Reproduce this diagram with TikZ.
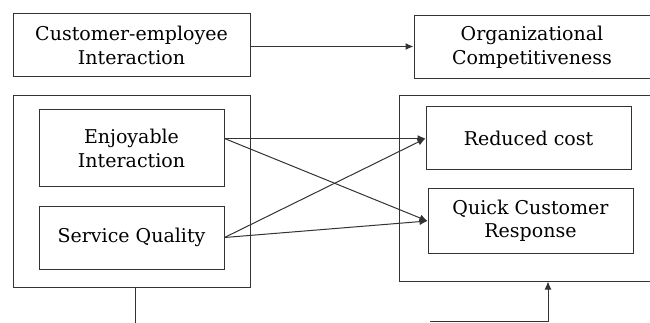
\documentclass[tikz,border=0pt]{standalone}
\usepackage{fontspec}
\setmainfont{DejaVu Serif}
\usetikzlibrary{arrows.meta,calc}
\definecolor{ln}{HTML}{333333}
\tikzset{txt/.style={font=\fontsize{19}{23.5}\selectfont}}
\begin{document}
\begin{tikzpicture}[x=1pt,y=-1pt,
  box/.style={draw=ln,line width=1pt,rectangle,inner sep=0pt,align=center,txt},
  arr/.style={draw=ln,line width=1pt,-{Latex[length=8pt,width=7pt]}},
  ln/.style={draw=ln,line width=1pt}]
\useasboundingbox (0,0) rectangle (650,323);
\node[box,minimum width=237pt,minimum height=63pt] (ce) at (131.5,45.5) {Customer-employee\\Interaction};
\node[box,minimum width=241pt,minimum height=63pt] (oc) at (534.5,47.5) {};
\node[align=center,txt] (oct) at (532,47.5) {Organizational\\Competitiveness};
\node[box,minimum width=237pt,minimum height=191pt] (lo) at (131.5,191.5) {};
\node[box,minimum width=260pt,minimum height=185pt] (ro) at (529,188.5) {};
\node[box,minimum width=185pt,minimum height=77pt] (e) at (131.5,148.5) {Enjoyable\\Interaction};
\node[box,minimum width=185pt,minimum height=63pt] (s) at (131.5,237.5) {Service Quality};
\node[box,minimum width=205pt,minimum height=63pt] (r) at (528.5,138.5) {Reduced cost};
\node[box,minimum width=205pt,minimum height=64pt] (q) at (530.5,221) {Quick Customer\\Response};
\draw[arr] (ce.east |- 0,46.5) -- (oc.west |- 0,46.5);
\coordinate (eo) at (e.east |- r.west);
\draw[arr] (eo) -- (r.west);
\draw[arr] (eo) -- (q.west);
\draw[arr] (s.east) -- (r.west);
\draw[arr] (s.east) -- (q.west);
\coordinate (b1) at (135,323);
\coordinate (b2) at (430,321.5);
\coordinate (b3) at (548,321.5);
\draw[ln] (lo.south -| b1) -- (b1);
\draw[arr] (b2) -- (b3) -- (ro.south -| b3);
\end{tikzpicture}
\end{document}
